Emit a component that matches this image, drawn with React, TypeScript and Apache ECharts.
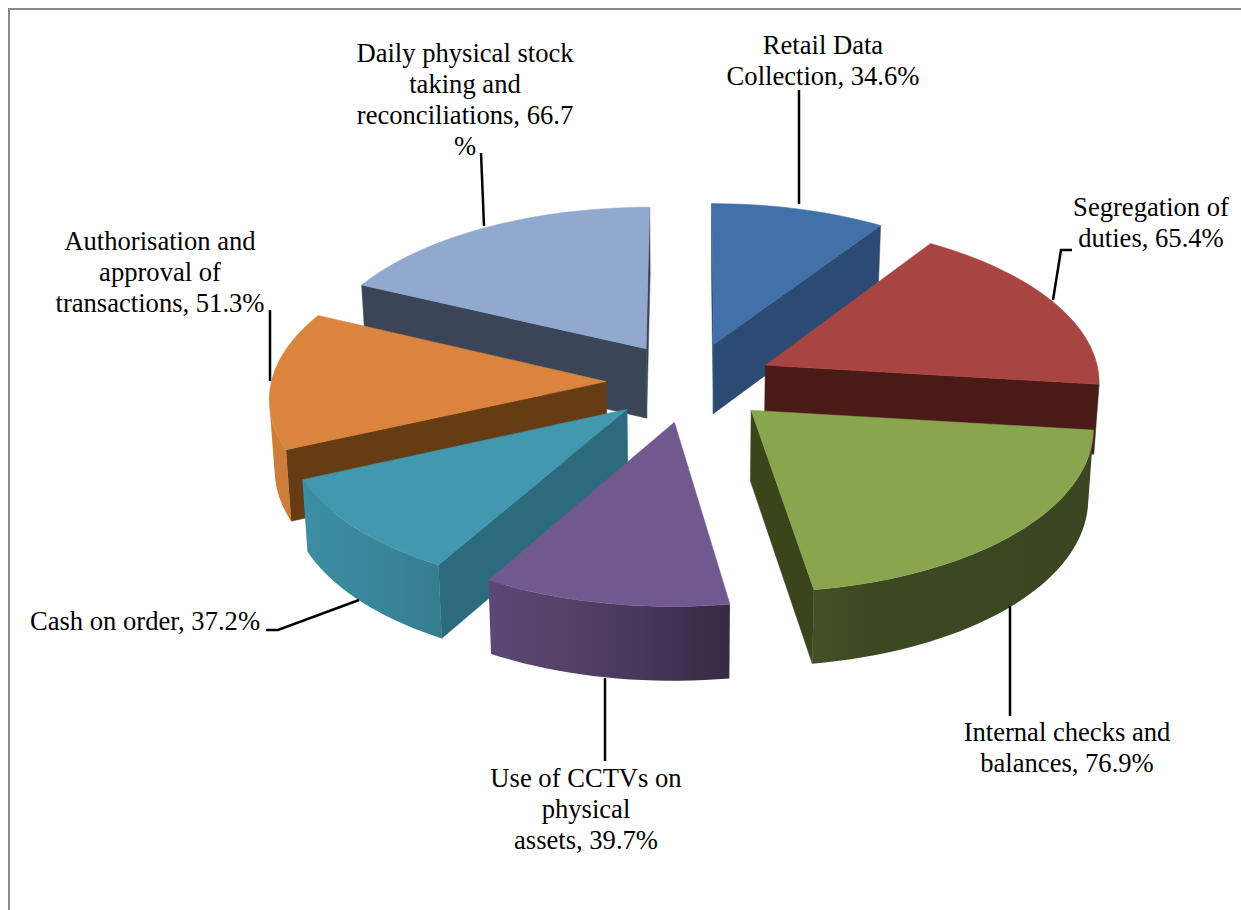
import React, { useEffect, useRef } from "react";
import * as echarts from "echarts";

const categories = [
  "Retail Data Collection",
  "Segregation of duties",
  "Internal checks and balances",
  "Use of CCTVs on physical assets",
  "Cash on order",
  "Authorisation and approval of transactions",
  "Daily physical stock taking and reconciliations",
];
const values = [34.6, 65.4, 76.9, 39.7, 37.2, 51.3, 66.7];
const topColors = ["#4270a8", "#a84542", "#89a54e", "#71588f", "#4198af", "#db843d", "#91a8cf"];
const wallColors = ["#2b4b75", "#4a1a17", "#3a451c", "#4a3760", "#2c6b7d", "#663c14", "#3b4558"];
const drawOrder = [6, 0, 1, 5, 4, 2, 3];
const labelLines = [
  "Retail Data\nCollection, 34.6%",
  "Segregation of\nduties, 65.4%",
  "Internal checks and\nbalances, 76.9%",
  "Use of CCTVs on\nphysical\nassets, 39.7%",
  "Cash on order, 37.2%",
  "Authorisation and\napproval of\ntransactions, 51.3%",
  "Daily physical stock\ntaking and\nreconciliations, 66.7\n%",
];

const W = 1241;
const H = 910;
const CX = 690;
const CY = 382;
const RX = 335;
const RY = 160;
const PERSP = 0.09;
const EXPLODE = 0.25;
const THICK = 70;
const SHRINK = 0.987;

const total = values.reduce((a, b) => a + b, 0);

function project(X: number, Y: number, bottom: boolean): number[] {
  const s = 1 / (1 + PERSP * Y);
  let x = CX + RX * X * s;
  let y = CY - RY * Y * s;
  if (bottom) {
    x = CX + (x - CX) * SHRINK;
    y += THICK * Math.sqrt(s);
  }
  return [x, y];
}

function hexShade(hex: string, f: number): string {
  const n = parseInt(hex.slice(1), 16);
  const r = Math.round(((n >> 16) & 255) * f);
  const g = Math.round(((n >> 8) & 255) * f);
  const b = Math.round((n & 255) * f);
  return `rgb(${r},${g},${b})`;
}

function outerShade(sinT: number): number {
  const stops = [
    [-1, 0.96],
    [-0.6, 0.86],
    [-0.3, 0.74],
    [-0.1, 0.64],
    [0.1, 0.5],
    [0.3, 0.44],
    [1, 0.42],
  ];
  for (let i = 1; i < stops.length; i++) {
    if (sinT <= stops[i][0]) {
      const t = (sinT - stops[i - 1][0]) / (stops[i][0] - stops[i - 1][0]);
      return stops[i - 1][1] + t * (stops[i][1] - stops[i - 1][1]);
    }
  }
  return 0.42;
}

function area(p: number[][]): number {
  let a = 0;
  for (let i = 0; i < p.length; i++) {
    const q = p[(i + 1) % p.length];
    a += p[i][0] * q[1] - q[0] * p[i][1];
  }
  return a;
}

function poly(points: number[][], fill: any, stroke: string) {
  return {
    type: "polygon",
    shape: { points },
    style: { fill, stroke, lineWidth: 0.5 },
    silent: true,
  };
}

function renderSlice(_params: any, api: any) {
  const value = api.value(0) as number;
  const index = api.value(1) as number;
  let before = 0;
  for (let i = 0; i < index; i++) before += values[i];
  const a0 = (before / total) * Math.PI * 2;
  const a1 = ((before + value) / total) * Math.PI * 2;
  const mid = (a0 + a1) / 2;
  const ox = EXPLODE * Math.sin(mid);
  const oy = EXPLODE * Math.cos(mid);
  const steps = Math.max(4, Math.ceil(((a1 - a0) * 180) / Math.PI / 2));
  const angle = (i: number) => a0 + ((a1 - a0) * i) / steps;
  const rim = (t: number, bottom: boolean) =>
    project(ox + Math.sin(t), oy + Math.cos(t), bottom);

  const children: any[] = [];
  const apexT = project(ox, oy, false);
  const apexB = project(ox, oy, true);
  const wall = wallColors[index];
  const base = topColors[index];

  const startWall = [apexT, rim(a0, false), rim(a0, true), apexB];
  const endWall = [apexT, rim(a1, false), rim(a1, true), apexB];
  if (area(startWall) < 0) children.push(poly(startWall, wall, wall));
  if (area(endWall) > 0) children.push(poly(endWall, wall, wall));

  // The front-facing run of the rim, as one polygon shaded across screen x.
  const visible: number[] = [];
  for (let i = 0; i < steps; i++) {
    const t0 = angle(i);
    const t1 = angle(i + 1);
    const q = [rim(t0, false), rim(t1, false), rim(t1, true), rim(t0, true)];
    if (area(q) < 0) {
      if (!visible.length) visible.push(t0);
      visible.push(t1);
    }
  }
  if (visible.length > 1) {
    const tops = visible.map((t) => rim(t, false));
    const bots = visible.map((t) => rim(t, true)).reverse();
    const outline = [...tops, ...bots];
    const xs = outline.map((p) => p[0]);
    const minX = Math.min(...xs);
    const maxX = Math.max(...xs);
    const colorStops = visible
      .map((t) => ({
        offset: Math.min(1, Math.max(0, (rim(t, false)[0] - minX) / (maxX - minX))),
        color: hexShade(base, outerShade(Math.sin(t))),
      }))
      .sort((a, b) => a.offset - b.offset);
    const fill = { type: "linear", x: 0, y: 0, x2: 1, y2: 0, colorStops };
    children.push({
      type: "polygon",
      shape: { points: outline },
      style: { fill },
      silent: true,
    });
  }

  const top: number[][] = [apexT];
  for (let i = 0; i <= steps; i++) top.push(rim(angle(i), false));
  children.push(poly(top, base, base));

  return { type: "group", children };
}

const labelStyle = {
  font: "26.6px 'Liberation Serif'",
  fill: "#000000",
  textAlign: "center",
  textVerticalAlign: "top",
  lineHeight: 30.8,
};

function labelAt(i: number, x: number, y: number) {
  return { type: "text", x, y, style: { ...labelStyle, text: labelLines[i] }, silent: true, z: 20 };
}

function leader(points: number[][]) {
  return {
    type: "polyline",
    shape: { points },
    style: { stroke: "#000000", lineWidth: 2.5, fill: "none" },
    silent: true,
    z: 10,
  };
}

function frame(x1: number, y1: number, x2: number, y2: number) {
  return {
    type: "line",
    shape: { x1, y1, x2, y2 },
    style: { stroke: "#898989", lineWidth: 2 },
    silent: true,
    z: 5,
  };
}

export default function App() {
  const ref = useRef<HTMLDivElement>(null);
  useEffect(() => {
    if (!ref.current) return;
    const chart = echarts.init(ref.current, undefined, { renderer: "svg" });
    chart.setOption({
      animation: false,
      backgroundColor: "#ffffff",
      series: [
        {
          type: "custom",
          name: "Controls",
          coordinateSystem: "none",
          renderItem: renderSlice,
          silent: true,
          encode: { value: 0 },
          data: drawOrder.map((i) => ({ name: categories[i], value: [values[i], i] })),
          z: 2,
        },
      ],
      graphic: {
        elements: [
          frame(9, 9, W, 9),
          frame(9, 8, 9, H),
          leader([[799, 90], [799, 204]]),
          leader([[1072, 250], [1061, 250], [1053, 300]]),
          leader([[1010, 606], [1010, 716]]),
          leader([[605, 678], [605, 761]]),
          leader([[266, 630], [278, 630], [359, 600]]),
          leader([[270, 310], [270, 381]]),
          leader([[481, 153], [484, 226]]),
          labelAt(0, 823, 30),
          labelAt(1, 1151, 192),
          labelAt(2, 1067, 717),
          labelAt(3, 586, 763),
          labelAt(4, 145, 606),
          labelAt(5, 160, 226),
          labelAt(6, 465, 38),
        ],
      },
    });
    return () => chart.dispose();
  }, []);
  return <div ref={ref} style={{ position: "fixed", left: 0, top: 0, width: W, height: H }} />;
}
